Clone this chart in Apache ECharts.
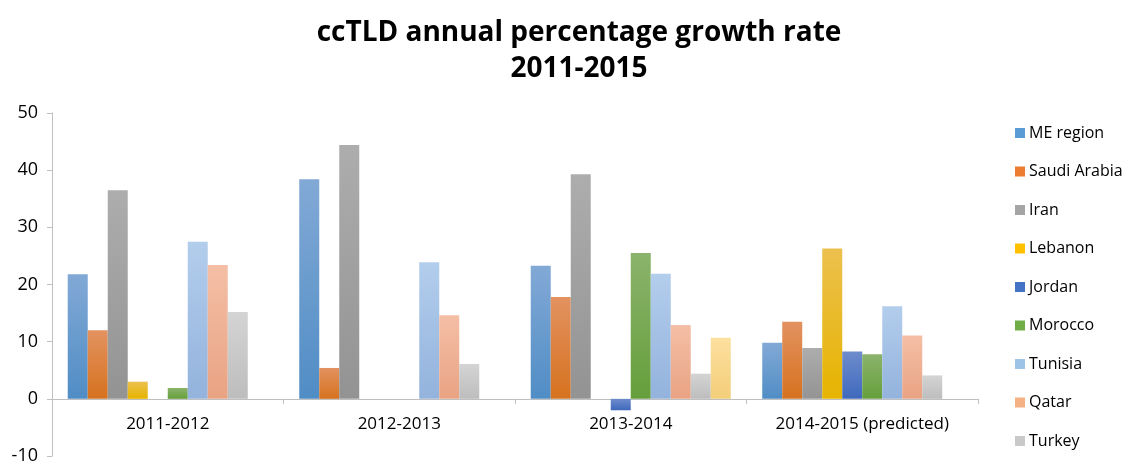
<!DOCTYPE html>
<html>
<head>
<meta charset="utf-8">
<script src="https://cdn.jsdelivr.net/npm/echarts@6/dist/echarts.min.js"></script>
<style>
  html, body { margin: 0; padding: 0; background: #fff; }
  #chart { width: 1133px; height: 466px; }
</style>
</head>
<body>
<div id="chart"></div>
<script>
// categories
const periods = ['2011-2012', '2012-2013', '2013-2014', '2014-2015 (predicted)']

// growth rates (%) per series, null = no bar
const meRegion    = [21.8, 38.4, 23.3, 9.8]
const saudiArabia = [12.0, 5.4, 17.8, 13.5]
const iran        = [36.5, 44.4, 39.3, 8.9]
const lebanon     = [3.0, null, null, 26.3]
const jordan      = [null, null, -2.0, 8.3]
const morocco     = [1.9, null, 25.5, 7.8]
const tunisia     = [27.5, 23.9, 21.9, 16.2]
const qatar       = [23.4, 14.6, 12.9, 11.1]
const turkey      = [15.2, 6.1, 4.4, 4.1]
const other       = [null, null, 10.7, null]

const yTicks = [-10, 0, 10, 20, 30, 40, 50]

const chart = echarts.init(document.getElementById('chart'))

// bar fill: lighter at top, darker at bottom (excel style)
const grad = (top, bottom) => new echarts.graphic.LinearGradient(0, 0, 0, 1, [
  { offset: 0, color: top },
  { offset: 1, color: bottom }
])

const seriesDefs = [
  { name: 'ME region', data: meRegion, top: '#82a9d6', bottom: '#508dc5', legend: '#5b9bd5' },
  { name: 'Saudi Arabia', data: saudiArabia, top: '#e39260', bottom: '#d6721f', legend: '#ed7d31' },
  { name: 'Iran', data: iran, top: '#adadad', bottom: '#939393', legend: '#a5a5a5' },
  { name: 'Lebanon', data: lebanon, top: '#ecc04e', bottom: '#e6b400', legend: '#ffc000' },
  { name: 'Jordan', data: jordan, top: '#6e8ccc', bottom: '#3f69bd', legend: '#4472c4' },
  { name: 'Morocco', data: morocco, top: '#8bb36c', bottom: '#659f3b', legend: '#70ad47' },
  { name: 'Tunisia', data: tunisia, top: '#b3cdec', bottom: '#93b3dd', legend: '#9dc3e6' },
  { name: 'Qatar', data: qatar, top: '#f4bfa6', bottom: '#e9a383', legend: '#f4b183' },
  { name: 'Turkey', data: turkey, top: '#d4d4d4', bottom: '#bdbdbd', legend: '#c9c9c9' },
  { name: 'Other', data: other, top: '#fde09f', bottom: '#f3ce7a', legend: '#ffd966' }
]

const option = {
  animation: false,
  title: {
    text: 'ccTLD annual percentage growth rate\n2011-2015',
    left: 574,
    textAlign: 'center',
    top: 10,
    textStyle: {
      fontFamily: 'Open Sans',
      fontWeight: 'bold',
      fontSize: 28,
      lineHeight: 36,
      color: '#000'
    }
  },
  legend: {
    orient: 'vertical',
    left: 1010,
    top: 120,
    itemWidth: 10,
    itemHeight: 10,
    itemGap: 22.5,
    icon: 'rect',
    data: seriesDefs.slice(0, 9).map(s => ({ name: s.name, itemStyle: { color: s.legend } })),
    textStyle: {
      fontFamily: 'Open Sans',
      fontSize: 16,
      color: '#000',
      padding: [0, 0, 0, -1]
    }
  },
  grid: {
    left: 52,
    right: 155,
    top: 113,
    bottom: 10,
    outerBoundsMode: 'none'
  },
  xAxis: {
    type: 'category',
    data: periods,
    axisLine: { lineStyle: { color: '#bfbfbf', width: 1 } },
    axisTick: { show: true, length: 5, lineStyle: { color: '#bfbfbf' } },
    axisLabel: {
      // labels sit just under the zero line, above the -10 tick
      margin: -40,
      fontFamily: 'Open Sans',
      fontSize: 17,
      color: '#000'
    }
  },
  yAxis: {
    type: 'value',
    min: yTicks[0],
    max: yTicks[yTicks.length - 1],
    interval: 10,
    axisLine: { show: true, lineStyle: { color: '#bfbfbf', width: 1 } },
    axisTick: { show: true, length: 5, lineStyle: { color: '#bfbfbf' } },
    splitLine: { show: false },
    axisLabel: {
      margin: 14,
      fontFamily: 'Open Sans',
      fontSize: 18,
      color: '#000'
    }
  },
  series: seriesDefs.map(s => ({
    name: s.name,
    type: 'bar',
    data: s.data,
    barGap: '0%',
    barCategoryGap: '13.6%',
    itemStyle: { color: grad(s.top, s.bottom) }
  }))
}

chart.setOption(option)
</script>
</body>
</html>
